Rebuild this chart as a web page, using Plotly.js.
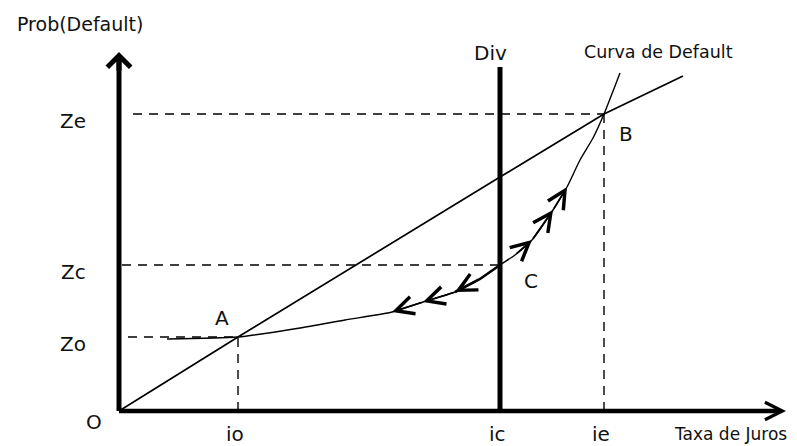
<!DOCTYPE html>
<html>
<head>
<meta charset="utf-8">
<script src="https://cdn.plot.ly/plotly-3.0.1.min.js"></script>
<style>html,body{margin:0;padding:0;background:#fff;}#chart{width:797px;height:446px;}</style>
</head>
<body>
<div id="chart"></div>
<script>
// ---- data (diagram coordinates: interest rate on x, default probability on y) ----
const rateTicks = [119, 381, 485];            // io, ic, ie
const rateLabels = ['io', 'ic', 'ie'];
const probTicks = [74, 146, 297];             // Zo, Zc, Ze
const probLabels = ['Zo', 'Zc', 'Ze'];
const lineX = [0, 119, 381, 485, 564];        // straight line through O, A, B
const lineY = [0, 74, 234, 297, 335];
const curveX = [48, 119, 181, 226, 273, 304, 336, 361, 381, 396, 413, 434, 448, 461, 474, 485, 501]; // Curva de Default
const curveY = [72, 74, 83, 91, 99, 109, 119, 132, 146, 156, 171, 201, 224, 251, 273, 297, 338];
const divTop = 344;                           // top of the Div line
const axisXEnd = 664;                         // end of rate axis
const axisYEnd = 359;                         // end of probability axis
const leftArrowTips = [4, 5, 6];              // curve indices, arrows pointing toward A
const upArrowTips = [10, 11, 12];             // curve indices, arrows pointing toward B
const pointNames = ['A', 'B', 'C'];
const pointIdx = [1, 15, 8];

const FONT = 'DejaVu Sans, Arial, sans-serif';
const black = '#000';
const dashed = {color: black, width: 1.4, dash: '9px,7px'};

const traces = [];
function seg(xs, ys, line) {
  traces.push({x: xs, y: ys, type: 'scatter', mode: 'lines', line: line, hoverinfo: 'skip', showlegend: false});
}
// dashed guides
seg([14, rateTicks[2]], [probTicks[2], probTicks[2]], dashed);
seg([3, rateTicks[1]], [probTicks[1], probTicks[1]], dashed);
seg([9, rateTicks[0]], [probTicks[0], probTicks[0]], dashed);
seg([rateTicks[0], rateTicks[0]], [0, probTicks[0]], dashed);
seg([rateTicks[2], rateTicks[2]], [0, probTicks[2]], dashed);
// Div line
seg([rateTicks[1], rateTicks[1]], [0, divTop], {color: black, width: 5});
// straight line
seg(lineX, lineY, {color: black, width: 1.7});
// default curve
seg(curveX, curveY, {color: black, width: 1.4, shape: 'spline', smoothing: 0.6});
// thicker stretch of the curve just left of C
seg(curveX.slice(6, 9), curveY.slice(6, 9), {color: black, width: 2.6});
// axes
seg([0, axisXEnd - 4], [0, 0], {color: black, width: 4.5});
seg([0, 0], [0, axisYEnd - 4], {color: black, width: 5});

const ann = [];
// axis arrowheads
ann.push({x: axisXEnd + 3, y: 0, ax: axisXEnd - 30, ay: 0, axref: 'x', ayref: 'y', xref: 'x', yref: 'y',
  text: '', showarrow: true, arrowhead: 5, arrowsize: 0.85, arrowwidth: 4, arrowcolor: black});
ann.push({x: 0, y: axisYEnd, ax: 0, ay: axisYEnd - 20, axref: 'x', ayref: 'y', xref: 'x', yref: 'y',
  text: '', showarrow: true, arrowhead: 4, arrowsize: 0.9, arrowwidth: 5, arrowcolor: black});
// curve arrows
leftArrowTips.forEach(i => ann.push({x: curveX[i], y: curveY[i], ax: curveX[i + 1], ay: curveY[i + 1],
  axref: 'x', ayref: 'y', xref: 'x', yref: 'y', text: '', showarrow: true, arrowhead: 5, arrowsize: 2.2,
  arrowwidth: 1.6, arrowcolor: black}));
upArrowTips.forEach(i => ann.push({x: curveX[i], y: curveY[i], ax: curveX[i - 1], ay: curveY[i - 1],
  axref: 'x', ayref: 'y', xref: 'x', yref: 'y', text: '', showarrow: true, arrowhead: 5, arrowsize: 2.2,
  arrowwidth: 1.6, arrowcolor: black}));

function label(text, x, y, dx, dy, size) {
  ann.push({x: x, y: y, xref: 'x', yref: 'y', text: text, showarrow: false, xanchor: 'center', yanchor: 'middle',
    xshift: dx, yshift: dy, font: {family: FONT, size: size || 18, color: '#111'}});
}
probLabels.forEach((t, k) => label(t, 0, probTicks[k], -46, -7, 20));
rateLabels.forEach((t, k) => label(t, rateTicks[k], 0, -3, -23, 20));
label('O', 0, 0, -25, -11, 20);
const pShift = [[-16, 19], [22, -20], [31, -16]];
pointNames.forEach((t, k) => label(t, curveX[pointIdx[k]], curveY[pointIdx[k]], pShift[k][0], pShift[k][1], 20));
label('Div', rateTicks[1], divTop, -10, 14, 20);
label('Curva de Default', curveX[curveX.length - 1], curveY[curveY.length - 1], 38, 21, 17.5);
label('Prob(Default)', 0, axisYEnd, -39, 28, 19);
label('Taxa de Juros', axisXEnd, 0, -53, -23, 17);

const layout = {
  width: 797, height: 446,
  margin: {l: 0, r: 0, t: 0, b: 0, pad: 0},
  paper_bgcolor: '#fff', plot_bgcolor: '#fff',
  xaxis: {range: [-119, 678], visible: false, fixedrange: true},
  yaxis: {range: [-35, 411], visible: false, fixedrange: true},
  showlegend: false,
  annotations: ann
};
Plotly.newPlot('chart', traces, layout, {displayModeBar: false, staticPlot: true});
</script>
</body>
</html>
